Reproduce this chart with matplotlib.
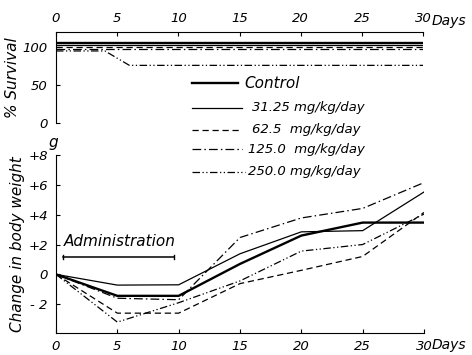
import matplotlib
matplotlib.use("Agg")
import matplotlib.pyplot as plt
from matplotlib.lines import Line2D

plt.rcParams['font.family'] = ['DejaVu Sans']
plt.rcParams['font.style'] = 'italic'

labels = ["Control", "31.25 mg/kg/day", "62.5  mg/kg/day", "125.0  mg/kg/day", "250.0 mg/kg/day"]

# Survival (%)
surv_days = [0, 4, 6, 30]
surv_control = [106, 106, 106, 106]
surv_31 = [103.5, 103.5, 103.5, 103.5]
surv_62 = [100, 100, 100, 100]
surv_125 = [97.5, 97.5, 97.5, 97.5]
surv_250 = [95, 95, 76, 76]

# Change in body weight (g)
days = [0, 5, 10, 15, 20, 25, 30]
bw_control = [0, -1.44, -1.44, 0.7, 2.6, 3.47, 3.47]
bw_31 = [0, -0.72, -0.7, 1.38, 2.85, 2.93, 5.52]
bw_62 = [0, -2.6, -2.6, -0.62, 0.27, 1.2, 4.15]
bw_125 = [0, -1.6, -1.7, 2.47, 3.78, 4.42, 6.15]
bw_250 = [0, -3.2, -1.9, -0.44, 1.56, 2.0, 4.04]

styles = [
    dict(color='black', lw=1.7, ls='-'),
    dict(color='black', lw=0.9, ls='-'),
    dict(color='black', lw=0.9, ls=(0, (5, 3))),
    dict(color='black', lw=0.9, ls=(0, (7, 2.5, 1.2, 2.5))),
    dict(color='black', lw=0.9, ls=(0, (6, 2, 1, 2, 1, 2))),
]

fig = plt.figure(figsize=(4.72, 3.55), dpi=100)

# Top panel: survival
ax1 = fig.add_axes([56/472, 1-123/355, 367/472, 91/355])
for y, st in zip([surv_control, surv_31, surv_62, surv_125, surv_250], styles):
    ax1.plot(surv_days, y, **st)
ax1.set_xlim(0, 30)
ax1.set_ylim(0, 120)
ax1.spines['right'].set_visible(False)
ax1.spines['bottom'].set_visible(False)
ax1.xaxis.tick_top()
ax1.set_xticks([0, 5, 10, 15, 20, 25, 30])
ax1.set_xticklabels(['0', '5', '10', '15', '20', '25', '30'])
ax1.set_yticks([0, 50, 100])
ax1.set_yticklabels(['0', '50', '100'])
ax1.tick_params(axis='x', direction='in', length=3, labelsize=9.5, pad=5)
ax1.tick_params(axis='y', direction='in', length=3, labelsize=9.5, pad=6)
ax1.set_ylabel('% Survival', fontsize=11, labelpad=2)
fig.text(432/472, 1-21/355, 'Days', fontsize=10, ha='left', va='center')

# Bottom panel: body weight
ax2 = fig.add_axes([56/472, 1-333/355, 368/472, 178/355])
for y, st in zip([bw_control, bw_31, bw_62, bw_125, bw_250], styles):
    ax2.plot(days, y, **st)
ax2.set_xlim(0, 30)
ax2.set_ylim(-3.93, 7.93)
ax2.spines['right'].set_visible(False)
ax2.spines['top'].set_visible(False)
ax2.set_xticks([0, 5, 10, 15, 20, 25, 30])
ax2.set_xticklabels(['0', '5', '10', '15', '20', '25', '30'])
ax2.set_yticks([-2, 0, 2, 4, 6, 8])
ax2.set_yticklabels(['- 2', '0', '+2', '+4', '+6', '+8'])
ax2.tick_params(axis='x', direction='in', length=3, labelsize=9.5, pad=5)
ax2.tick_params(axis='y', direction='in', length=3, labelsize=9.5, pad=6)
ax2.set_ylabel('Change in body weight', fontsize=11, labelpad=2)
fig.text(53/472, 1-143/355, 'g', fontsize=11, ha='center', va='center')
fig.text(432/472, 1-345/355, 'Days', fontsize=10, ha='left', va='center')

# Administration bar
ax2.plot([0.6, 9.6], [1.15, 1.15], color='black', lw=1.1)
ax2.plot([0.6, 0.6], [1.0, 1.3], color='black', lw=1.0)
ax2.plot([9.6, 9.6], [1.0, 1.3], color='black', lw=1.0)
ax2.text(0.6, 1.7, 'Administration', fontsize=11, ha='left', va='bottom')

# Legend drawn in figure coordinates spanning both panels
leg_y = [83, 108, 130, 149, 172]
leg_x0 = [192, 192, 192, 192, 192]
leg_x1 = [238, 242, 242, 242, 245]
leg_tx = [244, 252, 252, 248, 248]
leg_fs = [11, 9.5, 9.5, 9.5, 9.5]
for yy, x0, x1, tx, fs, lab, st in zip(leg_y, leg_x0, leg_x1, leg_tx, leg_fs, labels, styles):
    fig.add_artist(Line2D([x0/472, x1/472], [1-yy/355, 1-yy/355], transform=fig.transFigure, **st))
    fig.text(tx/472, 1-yy/355, lab, fontsize=fs, ha='left', va='center')

fig.savefig('out.png', dpi=100)
